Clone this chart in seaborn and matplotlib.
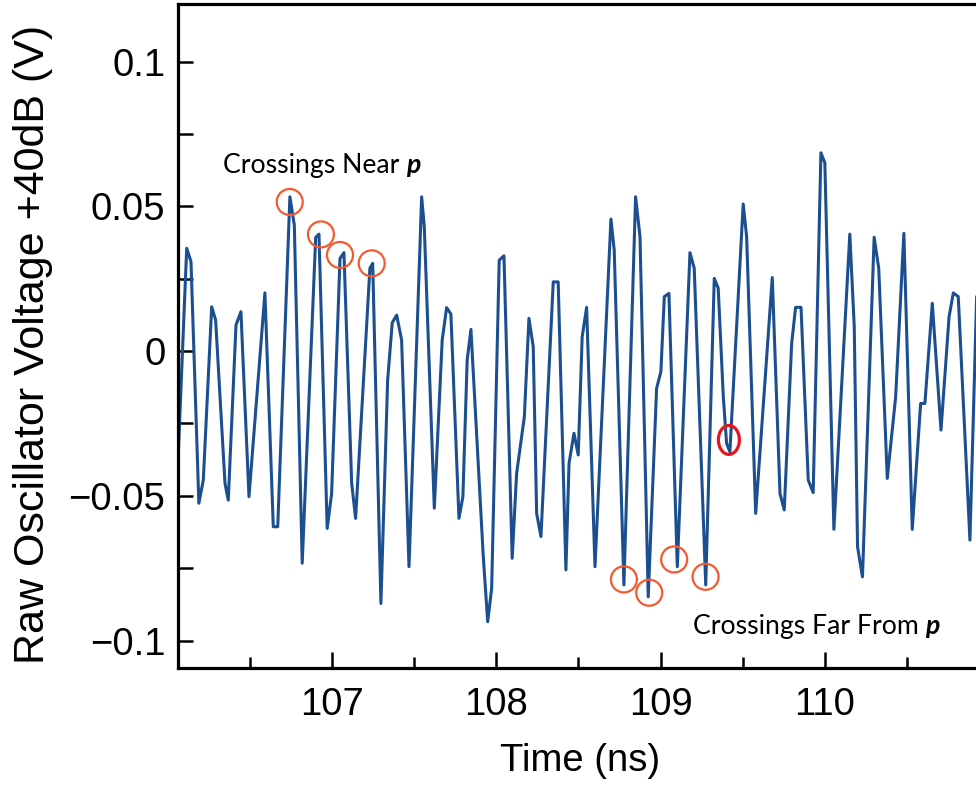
import numpy as np
import pandas as pd
import matplotlib
matplotlib.use("Agg")
import matplotlib.pyplot as plt
import seaborn as sns
from matplotlib.patches import Ellipse
from matplotlib.ticker import MultipleLocator, FuncFormatter
from matplotlib import font_manager

# ---------------- data ----------------
time_ns = [
    106.060, 106.116, 106.142, 106.190, 106.217, 106.268, 106.292, 106.349, 106.369,
    106.416, 106.446, 106.495, 106.592, 106.643, 106.670, 106.744, 106.771, 106.819,
    106.901, 106.921, 106.971, 106.998, 107.049, 107.073, 107.120, 107.144, 107.231,
    107.248, 107.298, 107.339, 107.367, 107.394, 107.424, 107.469, 107.546, 107.562,
    107.623, 107.671, 107.698, 107.724, 107.773, 107.797, 107.823, 107.846, 107.921,
    107.948, 107.972, 108.018, 108.047, 108.097, 108.124, 108.171, 108.199, 108.225,
    108.246, 108.272, 108.347, 108.377, 108.424, 108.443, 108.473, 108.499, 108.523,
    108.550, 108.601, 108.698, 108.718, 108.777, 108.848, 108.875, 108.925, 108.976,
    109.002, 109.023, 109.051, 109.102, 109.179, 109.205, 109.275, 109.327, 109.351,
    109.382, 109.402, 109.422, 109.503, 109.524, 109.579, 109.680, 109.727, 109.753,
    109.798, 109.822, 109.855, 109.899, 109.929, 109.976, 110.000, 110.055, 110.152,
    110.179, 110.199, 110.229, 110.300, 110.328, 110.380, 110.431, 110.481, 110.532,
    110.583, 110.609, 110.654, 110.707, 110.756, 110.782, 110.812, 110.883, 110.924,
    110.940,
]
voltage = [
    -0.0420, 0.0355, 0.0309, -0.0526, -0.0446, 0.0153, 0.0107, -0.0457, -0.0515,
    0.0090, 0.0136, -0.0503, 0.0201, -0.0607, -0.0607, 0.0533, 0.0435, -0.0733,
    0.0393, 0.0404, -0.0613, -0.0492, 0.0320, 0.0340, -0.0457, -0.0578, 0.0286,
    0.0303, -0.0872, -0.0100, 0.0098, 0.0124, 0.0038, -0.0745, 0.0533, 0.0429,
    -0.0543, 0.0038, 0.0150, 0.0128, -0.0578, -0.0503, -0.0031, 0.0075, -0.0710,
    -0.0935, -0.0820, 0.0314, 0.0329, -0.0716, -0.0423, -0.0227, 0.0113, 0.0015,
    -0.0561, -0.0641, 0.0239, 0.0239, -0.0756, -0.0388, -0.0284, -0.0359, 0.0049,
    0.0151, -0.0745, 0.0456, 0.0349, -0.0808, 0.0533, 0.0395, -0.0849, -0.0129,
    -0.0071, 0.0188, 0.0199, -0.0745, 0.0340, 0.0286, -0.0808, 0.0251, 0.0217,
    -0.0158, -0.0319, -0.0348, 0.0508, 0.0395, -0.0561, 0.0254, -0.0492, -0.0549,
    0.0026, 0.0151, 0.0151, -0.0446, -0.0489, 0.0685, 0.0650, -0.0616, 0.0404,
    0.0084, -0.0676, -0.0780, 0.0393, 0.0286, -0.0440, -0.0158, 0.0407, -0.0616,
    -0.0181, -0.0181, 0.0165, -0.0273, 0.0118, 0.0201, 0.0188, -0.0653, 0.0188,
    0.0200,
]

# circled crossings
near_t = [106.743, 106.933, 107.049, 107.242]
near_v = [0.0515, 0.0403, 0.0332, 0.0303]
far_t = [108.777, 108.931, 109.083, 109.274]
far_v = [-0.0789, -0.0835, -0.0720, -0.0780]
red_t = [109.416]
red_v = [-0.0307]

near_label = "Crossings Near"
far_label = "Crossings Far From"
symbol = "p"
x_label = "Time (ns)"
y_label = "Raw Oscillator Voltage +40dB (V)"

# ---------------- style ----------------
sns.set_style("white")
names = {f.name for f in font_manager.fontManager.ttflist}
narrow = "Liberation Sans Narrow" in names
axis_family = ["Liberation Sans Narrow", "Liberation Sans"] if narrow else ["Liberation Sans"]
plt.rcParams["font.family"] = ["Liberation Sans", "DejaVu Sans"]
for k in ["text.color", "axes.labelcolor", "xtick.color", "ytick.color", "axes.edgecolor"]:
    plt.rcParams[k] = "black"
tick_size = 33 if narrow else 27.5

W, H = 976, 786
fig = plt.figure(figsize=(W / 100, H / 100), dpi=100)
ax = fig.add_axes([178 / W, (H - 668) / H, (W - 178) / W, (668 - 4) / H])

df = pd.DataFrame({"t": time_ns, "v": voltage})
sns.lineplot(data=df, x="t", y="v", ax=ax, color="#1B4F8F", linewidth=2.2,
             sort=False, estimator=None)

ax.set_xlim(106.063, 110.92)
ax.set_ylim(-0.1095, 0.1199)

# orange / red circles
for t, v in zip(near_t + far_t, near_v + far_v):
    ax.add_patch(Ellipse((t, v), width=26 / 164.3, height=26 / 2895,
                         fill=False, edgecolor="#F4592F", linewidth=1.6, zorder=5))
for t, v in zip(red_t, red_v):
    ax.add_patch(Ellipse((t, v), width=21 / 164.3, height=29 / 2895,
                         fill=False, edgecolor="#E8141B", linewidth=2.3, zorder=5))

# spines & ticks
for s in ["left", "bottom", "top"]:
    ax.spines[s].set_linewidth(2.3)
    ax.spines[s].set_color("black")
ax.spines["right"].set_visible(False)

ax.xaxis.set_major_locator(MultipleLocator(1))
ax.xaxis.set_minor_locator(MultipleLocator(0.5))
ax.yaxis.set_major_locator(MultipleLocator(0.05))
ax.yaxis.set_minor_locator(MultipleLocator(0.025))


def yfmt(val, pos):
    if abs(val) < 1e-9:
        return "0"
    return ("%g" % val).replace("-", "\u2212")


ax.yaxis.set_major_formatter(FuncFormatter(yfmt))
ax.xaxis.set_major_formatter(FuncFormatter(lambda v, p: "%d" % round(v)))

ax.tick_params(axis="x", which="major", direction="in", length=11.5, width=1.8,
               pad=14, labelsize=tick_size, top=False, bottom=True, colors="black")
ax.tick_params(axis="x", which="minor", direction="in", length=8, width=1.8,
               top=False, bottom=True, colors="black")
ax.tick_params(axis="y", which="both", direction="in", length=11, width=1.8,
               pad=9, labelsize=tick_size, left=True, right=False, colors="black")
for lab in ax.get_xticklabels() + ax.get_yticklabels():
    lab.set_family(axis_family)

ax.set_xlabel(x_label, fontsize=tick_size, family=axis_family, va="top", color="black")
ax.set_ylabel(y_label, fontsize=31, family=["Liberation Sans"], color="black")
ax.xaxis.set_label_coords(0.504, -0.113)
ax.yaxis.set_label_coords(-0.157, 0.487)

# annotations, fitted to the reference text width
ann_family = ["Lato", "Open Sans", "DejaVu Sans"]
fig.canvas.draw()
renderer = fig.canvas.get_renderer()
probe = fig.text(0, 0, far_label + " ", fontsize=20, family=ann_family)
probe_p = fig.text(0, 0, symbol, fontsize=20, family=ann_family,
                   weight="bold", style="italic")
wtot = probe.get_window_extent(renderer).width + probe_p.get_window_extent(renderer).width
probe.remove()
probe_p.remove()
ann_size = 20 * 247 / wtot


def label_with_p(text, x_px, base_px):
    t1 = fig.text(x_px / W, (H - base_px) / H, text, fontsize=ann_size,
                  family=ann_family, va="baseline", ha="left", color="black")
    fig.canvas.draw()
    bb = t1.get_window_extent(fig.canvas.get_renderer())
    space = 0.24 * ann_size * 100 / 72
    fig.text((bb.x1 + space) / W, (H - base_px) / H, symbol, fontsize=ann_size,
             family=ann_family, weight="bold", style="italic", va="baseline",
             ha="left", color="black")


label_with_p(near_label, 223, 173)
label_with_p(far_label, 693, 634)

fig.savefig("out.png", dpi=100)
